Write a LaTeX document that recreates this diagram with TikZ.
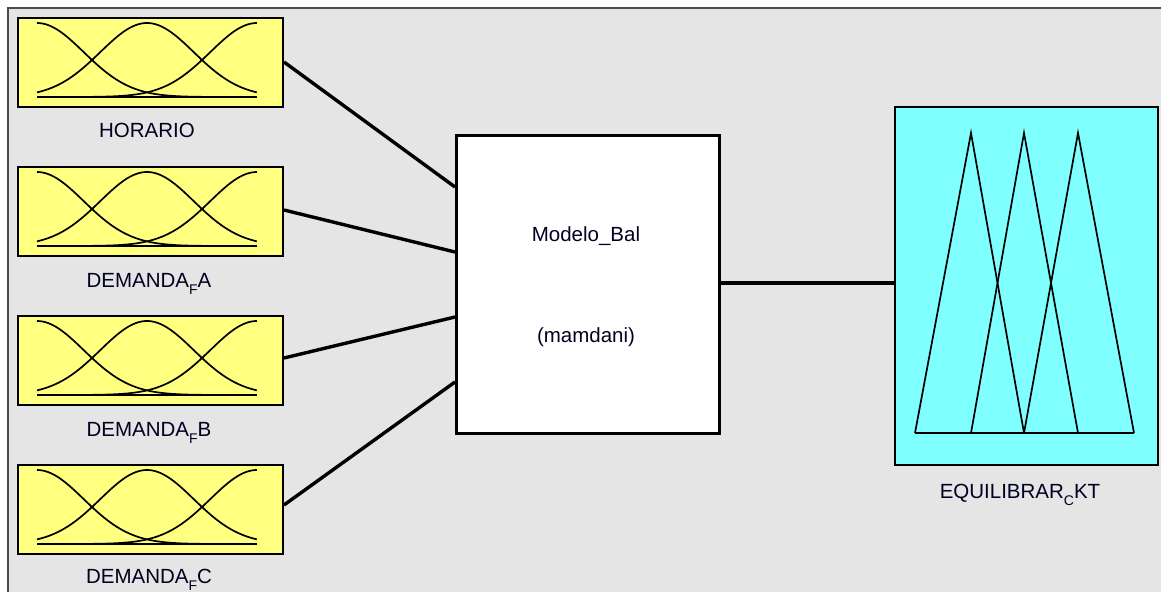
\documentclass[tikz,border=0pt]{standalone}
\usepackage{fontspec}
\setmainfont{Liberation Sans}
\definecolor{bgray}{HTML}{E5E5E5}
\definecolor{fyellow}{HTML}{FFFF80}
\definecolor{fcyan}{HTML}{80FFFF}
\newcommand{\sublbl}[1]{{\fontsize{14}{14}\selectfont\raisebox{-7pt}{#1}}}
\tikzset{
  inbox/.style={draw=black, line width=2pt, fill=fyellow},
  outbox/.style={draw=black, line width=2pt, fill=fcyan},
  rulebox/.style={draw=black, line width=2.6pt, fill=white},
  mfline/.style={black, line width=1.7pt},
  conn/.style={black, line width=3.4pt},
  lbl/.style={font=\fontsize{20.5}{23}\selectfont, text=black!85!blue!90!black, anchor=base, inner sep=0pt}
}
\begin{document}
\begin{tikzpicture}[x=1pt,y=-1pt]
\useasboundingbox (0,0) rectangle (1161,592);
\fill[white] (0,0) rectangle (1161,592);
\fill[bgray] (8,8) rectangle (1161,592);
\draw[black!70, line width=1.2pt] (8,592) -- (8,8) -- (1161,8);
% input boxes
\foreach \i/\yy in {1/17, 2/166, 3/315, 4/464} {
  \node[inbox, minimum width=265pt, minimum height=89pt, anchor=north west, inner sep=0pt] (in\i) at (17,\yy) {};
  \pgfmathsetmacro{\base}{\yy+80}
  \draw[mfline] plot[domain=0:1, samples=70, smooth] ({37+220*\x},{\base-74*exp(-0.5*(\x/0.2123)^2)});
  \draw[mfline] plot[domain=0:1, samples=70, smooth] ({37+220*\x},{\base-74*exp(-0.5*((\x-0.5)/0.2123)^2)});
  \draw[mfline] plot[domain=0:1, samples=70, smooth] ({37+220*\x},{\base-74*exp(-0.5*((\x-1)/0.2123)^2)});
  \draw[mfline] (37,\base) -- (257,\base);
}
\node[lbl] (l1) at (147,137) {HORARIO};
\node[lbl] (l2) at (149,287) {DEMANDA\sublbl{F}A};
\node[lbl] (l3) at (149,436) {DEMANDA\sublbl{F}B};
\node[lbl] (l4) at (149,583) {DEMANDA\sublbl{F}C};
% rule box
\node[rulebox, minimum width=263pt, minimum height=298pt, anchor=north west, inner sep=0pt] (rb) at (455,134) {};
\node[lbl] (t1) at (586,241) {Modelo\_Bal};
\node[lbl] (t2) at (586,342) {(mamdani)};
% output box
\node[outbox, minimum width=263pt, minimum height=358pt, anchor=north west, inner sep=0pt] (ob) at (894,106) {};
\draw[mfline] (915,433) -- (971,133) -- (1024,433);
\draw[mfline] (971,433) -- (1024,133) -- (1078,433);
\draw[mfline] (1024,433) -- (1078,133) -- (1134,433);
\draw[mfline] (915,433) -- (1134,433);
\node[lbl] (l5) at (1020,498) {EQUILIBRAR\sublbl{C}KT};
% connectors
\coordinate (c1) at (455,187);
\coordinate (c2) at (455,252);
\coordinate (c3) at (455,317);
\coordinate (c4) at (455,382);
\coordinate (co) at (894,283);
\draw[conn] (in1.east |- 0,62) -- (c1);
\draw[conn] (in2.east |- 0,210) -- (c2);
\draw[conn] (in3.east |- 0,358) -- (c3);
\draw[conn] (in4.east |- 0,505) -- (c4);
\draw[conn] (rb.east |- 0,283) -- (co);
\end{tikzpicture}
\end{document}
